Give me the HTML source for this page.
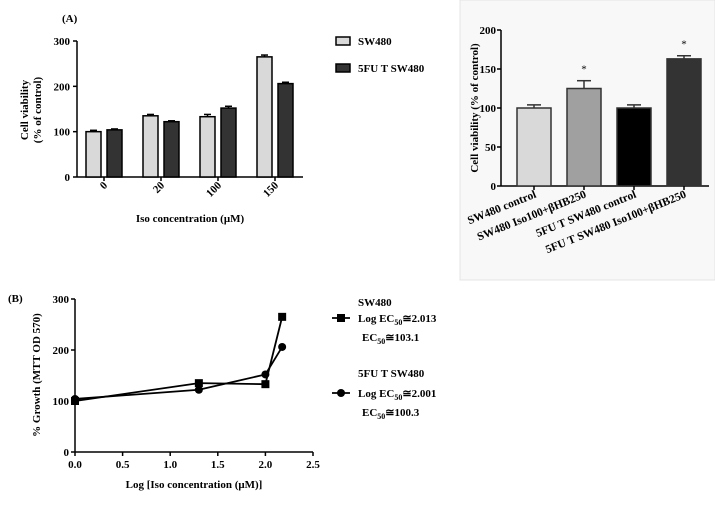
<!DOCTYPE html>
<html><head><meta charset="utf-8"><style>
body{margin:0;background:#fff;}
svg{font-family:"Liberation Serif",serif;font-weight:bold;}
</style></head><body>
<svg width="715" height="500" viewBox="0 0 715 500">
<rect x="460" y="0" width="255" height="280" fill="#f8f8f8" stroke="#e4e4e4"/>
<g id="gA"></g>
<g id="gR"></g>
<g id="gB"></g>
</svg>
<script>
const NS="http://www.w3.org/2000/svg";
// Chart A data
const aCats=["0","20","100","150"];
const aSW=[100,135,133,265];
const aSWerr=[3,3,5,4];
const a5FU=[104,122,152,206];
const a5FUerr=[2,2,4,3];
const aTicks=[0,100,200,300];
// Right chart data
const rCats=["SW480 control","SW480 Iso100+βHB250","5FU T SW480 control","5FU T SW480 Iso100+βHB250"];
const rVals=[100,125,100,163];
const rErr=[4,10,4,4];
const rStar=[false,true,false,true];
const rTicks=[0,50,100,150,200];
// Chart B data
const bX=[0,1.301,2,2.176];
const bSW=[100,135,133,265];
const b5FU=[104,122,152,206];
const bXTicks=["0.0","0.5","1.0","1.5","2.0","2.5"];
const bYTicks=[0,100,200,300];

function mk(p,tag,at,txt){const e=document.createElementNS(NS,tag);for(const k in at)e.setAttribute(k,at[k]);if(txt!==undefined)e.textContent=txt;p.appendChild(e);return e;}

// ---- Chart A
(function(){
const g=document.getElementById('gA');
const y=v=>177-v*(136/300);
const x0=77,x1=303;
mk(g,'text',{x:62,y:22,'font-size':11},'(A)');
mk(g,'line',{x1:x0,y1:y(300),x2:x0,y2:177,stroke:'#000','stroke-width':1.5});
mk(g,'line',{x1:x0,y1:177,x2:x1,y2:177,stroke:'#000','stroke-width':1.5});
aTicks.forEach(t=>{
 const l=mk(g,'line',{x1:x0-4,y1:y(t),x2:x0,y2:y(t),stroke:'#000','stroke-width':1.5});
 
 const tx=mk(g,'text',{x:x0-7,y:y(t)+4,'font-size':11,'text-anchor':'end'},String(t));
 
});
const yt=mk(g,'text',{transform:'translate(28,110) rotate(-90)','font-size':11,'text-anchor':'middle'},'Cell viability');

mk(g,'text',{transform:'translate(41,110) rotate(-90)','font-size':11,'text-anchor':'middle'},'(% of control)');
aCats.forEach((c,i)=>{
 const gx=86+i*57;
 [[aSW[i],aSWerr[i],'#d9d9d9',gx],[a5FU[i],a5FUerr[i],'#333',gx+21]].forEach(([v,e,col,bx],j)=>{
  mk(g,'line',{x1:bx+7.5,y1:y(v),x2:bx+7.5,y2:y(v+e),stroke:'#000','stroke-width':1.5});
  mk(g,'line',{x1:bx+4,y1:y(v+e),x2:bx+11,y2:y(v+e),stroke:'#000','stroke-width':1.5});
  const r=mk(g,'rect',{x:bx,y:y(v),width:15,height:177-y(v),fill:col,stroke:'#000','stroke-width':1.5});
  
 });
 const cx=gx+18;
 mk(g,'line',{x1:cx,y1:177,x2:cx,y2:181,stroke:'#000','stroke-width':1.5});
 const t=mk(g,'text',{transform:`translate(${cx+4},${186}) rotate(-45)`,'font-size':11,'text-anchor':'end'},c);
 
});
const xt=mk(g,'text',{x:190,y:222,'font-size':11,'text-anchor':'middle'},'Iso concentration (μM)');

const l1=mk(g,'rect',{x:336,y:37,width:14,height:8,fill:'#d9d9d9',stroke:'#000','stroke-width':1.5});

mk(g,'text',{x:358,y:45,'font-size':11},'SW480');
const l2=mk(g,'rect',{x:336,y:64,width:14,height:8,fill:'#333',stroke:'#000','stroke-width':1.5});

mk(g,'text',{x:358,y:72,'font-size':11},'5FU T SW480');
})();

// ---- Right chart
(function(){
const g=document.getElementById('gR');
const y=v=>186-v*(156/200);
const x0=501,x1=709;
mk(g,'line',{x1:x0,y1:y(200),x2:x0,y2:186,stroke:'#000','stroke-width':1.5});
mk(g,'line',{x1:x0,y1:186,x2:x1,y2:186,stroke:'#000','stroke-width':1.5});
rTicks.forEach(t=>{
 mk(g,'line',{x1:x0-4,y1:y(t),x2:x0,y2:y(t),stroke:'#000','stroke-width':1.5});
 const tx=mk(g,'text',{x:x0-5,y:y(t)+4,'font-size':11,'text-anchor':'end'},String(t));
 
});
const yt=mk(g,'text',{transform:'translate(478,108) rotate(-90)','font-size':11,'text-anchor':'middle'},'Cell viability (% of control)');

const cols=['#d9d9d9','#a0a0a0','#000','#333'];
rCats.forEach((c,i)=>{
 const bx=517+i*50,v=rVals[i],e=rErr[i];
 mk(g,'line',{x1:bx+17,y1:y(v),x2:bx+17,y2:y(v+e),stroke:'#333','stroke-width':1.5});
 mk(g,'line',{x1:bx+10,y1:y(v+e),x2:bx+24,y2:y(v+e),stroke:'#333','stroke-width':1.5});
 const r=mk(g,'rect',{x:bx,y:y(v),width:34,height:186-y(v),fill:cols[i],stroke:'#333','stroke-width':1.5});
 
 if(rStar[i]){const s=mk(g,'text',{x:bx+17,y:y(v+e)-8,'font-size':11,'text-anchor':'middle','font-weight':'normal'},'*');
  }
 mk(g,'line',{x1:bx+17,y1:186,x2:bx+17,y2:190,stroke:'#000','stroke-width':1.5});
 const t=mk(g,'text',{transform:`translate(${bx+20},${197}) rotate(-22)`,'font-size':11.5,'text-anchor':'end'},c);
 
});
})();

// ---- Chart B
(function(){
const g=document.getElementById('gB');
const x=v=>75+v*(238/2.5);
const y=v=>452-v*(153/300);
mk(g,'text',{x:8,y:302,'font-size':11},'(B)');
mk(g,'line',{x1:75,y1:y(300),x2:75,y2:452,stroke:'#000','stroke-width':1.5});
mk(g,'line',{x1:75,y1:452,x2:313,y2:452,stroke:'#000','stroke-width':1.5});
bYTicks.forEach(t=>{
 mk(g,'line',{x1:71,y1:y(t),x2:75,y2:y(t),stroke:'#000','stroke-width':1.5});
 const tx=mk(g,'text',{x:69,y:y(t)+4,'font-size':11,'text-anchor':'end'},String(t));
 
});
bXTicks.forEach(t=>{
 const v=parseFloat(t);
 mk(g,'line',{x1:x(v),y1:452,x2:x(v),y2:456,stroke:'#000','stroke-width':1.5});
 const tx=mk(g,'text',{x:x(v),y:468,'font-size':11,'text-anchor':'middle'},t);
 
});
const yt=mk(g,'text',{transform:'translate(40,375) rotate(-90)','font-size':11,'text-anchor':'middle'},'% Growth (MTT OD 570)');

const xt=mk(g,'text',{x:194,y:488,'font-size':11,'text-anchor':'middle'},'Log [Iso concentration (μM)]');

const p1=mk(g,'polyline',{points:bX.map((v,i)=>x(v)+','+y(bSW[i])).join(' '),fill:'none',stroke:'#000','stroke-width':1.8});

const p2=mk(g,'polyline',{points:bX.map((v,i)=>x(v)+','+y(b5FU[i])).join(' '),fill:'none',stroke:'#000','stroke-width':1.8});

bX.forEach((v,i)=>{
 const s=mk(g,'rect',{x:x(v)-4,y:y(bSW[i])-4,width:8,height:8,fill:'#000'});
 
 const c=mk(g,'circle',{cx:x(v),cy:y(b5FU[i]),r:4,fill:'#000'});
 
});
// legend
mk(g,'text',{x:358,y:306,'font-size':11},'SW480');
mk(g,'line',{x1:332,y1:318,x2:350,y2:318,stroke:'#000','stroke-width':1.8});
const ls=mk(g,'rect',{x:337,y:314,width:8,height:8,fill:'#000'});

const t1=mk(g,'text',{x:358,y:322,'font-size':11});t1.innerHTML='Log EC<tspan font-size="8" dy="3">50</tspan><tspan dy="-3">≅2.013</tspan>';
const t2=mk(g,'text',{x:362,y:341,'font-size':11});t2.innerHTML='EC<tspan font-size="8" dy="3">50</tspan><tspan dy="-3">≅103.1</tspan>';
mk(g,'text',{x:358,y:377,'font-size':11},'5FU T SW480');
mk(g,'line',{x1:332,y1:393,x2:350,y2:393,stroke:'#000','stroke-width':1.8});
const lc=mk(g,'circle',{cx:341,cy:393,r:4,fill:'#000'});

const t3=mk(g,'text',{x:358,y:397,'font-size':11});t3.innerHTML='Log EC<tspan font-size="8" dy="3">50</tspan><tspan dy="-3">≅2.001</tspan>';
const t4=mk(g,'text',{x:362,y:416,'font-size':11});t4.innerHTML='EC<tspan font-size="8" dy="3">50</tspan><tspan dy="-3">≅100.3</tspan>';
})();
</script>
</body></html>
